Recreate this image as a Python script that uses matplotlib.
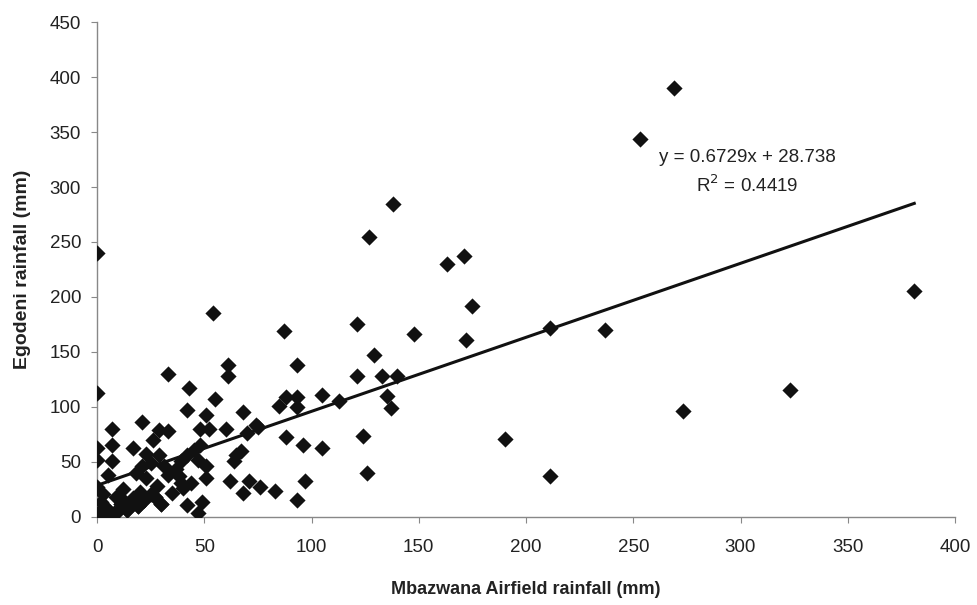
import numpy as np
import matplotlib
matplotlib.use("Agg")
import matplotlib.pyplot as plt

plt.rcParams['font.family'] = ['Liberation Sans', 'DejaVu Sans']

# Mbazwana Airfield rainfall (mm) vs Egodeni rainfall (mm)
mbazwana = [0, 0, 0, 0, 0, 0, 1, 2, 3, 4, 5, 6, 7, 7, 7, 8, 9, 10, 11, 12, 13,
            14, 15, 17, 17, 18, 19, 20, 21, 21, 22, 23, 23, 25, 25, 26, 27, 28,
            29, 29, 30, 31, 33, 33, 33, 37, 38, 39, 39, 42, 42, 42, 43, 44, 45,
            47, 47, 48, 48, 49, 51, 51, 51, 52, 54, 55, 60, 61, 61, 62, 64, 65,
            67, 68, 68, 70, 71, 74, 75, 76, 83, 85, 87, 88, 88, 93, 93, 93, 96,
            97, 93, 105, 105, 113, 121, 121, 124, 126, 127, 129, 133, 135, 137,
            138, 140, 148, 163, 171, 172, 175, 190, 211, 211, 237, 253, 269,
            273, 323, 381, 2, 4, 8, 11, 14, 19, 22, 27, 30, 35, 40]
egodeni = [240, 113, 63, 52, 27, 3, 2, 14, 21, 8, 38, 2, 80, 65, 51, 4, 18, 5,
           12, 25, 14, 6, 9, 17, 63, 40, 10, 23, 86, 46, 15, 35, 57, 49, 21, 70,
           18, 28, 79, 56, 12, 46, 130, 78, 38, 44, 37, 51, 31, 56, 11, 97, 117,
           31, 61, 4, 52, 65, 80, 14, 93, 46, 35, 80, 185, 107, 80, 138, 128,
           33, 51, 56, 60, 95, 22, 76, 33, 84, 82, 27, 24, 101, 169, 109, 73,
           138, 109, 15, 65, 33, 100, 111, 63, 105, 175, 128, 74, 40, 255, 147,
           128, 110, 99, 285, 128, 166, 230, 237, 161, 192, 71, 172, 37, 170,
           344, 390, 96, 115, 205, 5, 8, 3, 12, 6, 10, 15, 18, 12, 22, 26]

# linear trendline as printed on the chart
slope = 0.6729
intercept = 28.738
r2 = 0.4419

fig, ax = plt.subplots(figsize=(9.78, 6.05), dpi=100)
fig.subplots_adjust(left=0.0992, right=0.9765, bottom=0.1455, top=0.9636)

ax.scatter(mbazwana, egodeni, marker='D', s=68, color='#111111', zorder=3,
           linewidths=0)

xl = np.array([0, max(mbazwana)])
ax.plot(xl, slope * xl + intercept, color='#111111', lw=2.2, zorder=2)

ax.text(303, 327, "y = %.4fx + %.3f" % (slope, intercept), ha='center',
        va='center', fontsize=13.5, color='#222222')
ax.text(303, 302, "R$^2$ = %.4f" % r2, ha='center', va='center',
        fontsize=13.5, color='#222222')

ax.set_xlim(0, 400)
ax.set_ylim(0, 450)
ax.set_xticks(np.arange(0, 401, 50))
ax.set_yticks(np.arange(0, 451, 50))
ax.tick_params(labelsize=13.5, labelcolor='#222222', color='#888888',
               length=4.5, width=0.8, direction='out')
ax.tick_params(axis='y', pad=7)
ax.tick_params(axis='x', pad=11)

for s in ['top', 'right']:
    ax.spines[s].set_visible(False)
for s in ['left', 'bottom']:
    ax.spines[s].set_color('#888888')
    ax.spines[s].set_linewidth(1.0)

ax.set_xlabel("Mbazwana Airfield rainfall (mm)", fontsize=13, fontweight='bold',
              color='#222222')
ax.set_ylabel("Egodeni rainfall (mm)", fontsize=14, fontweight='bold',
              color='#222222')
ax.xaxis.set_label_coords(0.5, -64 / 495, transform=ax.transAxes)
ax.yaxis.set_label_coords(-66 / 858, 0.5, transform=ax.transAxes)

fig.savefig("out.png", dpi=100)
